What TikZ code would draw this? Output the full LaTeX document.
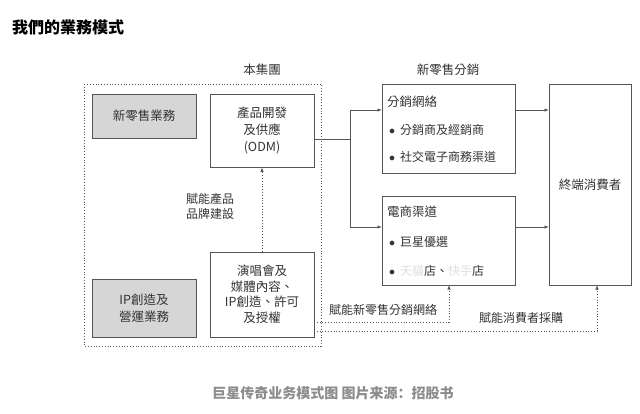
\documentclass[tikz,border=0pt]{standalone}
\usepackage{fontspec}
\setmainfont{Liberation Serif}
\newfontfamily\cjk{Noto Sans CJK TC}
\newfontfamily\cjksc{Noto Sans CJK SC}
\usetikzlibrary{arrows.meta}
\definecolor{txt}{HTML}{333333}
\definecolor{ln}{HTML}{555555}
\definecolor{gfill}{HTML}{D6D6D6}
\newcommand{\blt}{\raisebox{0.5pt}{$\bullet$}\hspace{5pt}}
\tikzset{
  box/.style={draw=ln, line width=0.8pt, text=txt, align=center, inner sep=0pt, font=\cjk\fontsize{12.5}{17}\selectfont},
  graybox/.style={box, fill=gfill},
  lbl/.style={text=txt, align=center, inner sep=0pt, font=\cjk\fontsize{12}{15}\selectfont},
  arr/.style={-{Latex[length=4.5pt,width=3.5pt]}},
  conn/.style={draw=ln, line width=0.8pt},
  dots/.style={draw=ln, line width=0.8pt, dotted},
}
\begin{document}
\begin{tikzpicture}[x=1pt,y=-1pt]
\useasboundingbox[fill=white] (0,0) rectangle (640,413);
\node[anchor=west, inner sep=0pt, font=\cjk\bfseries\fontsize{16}{18}\selectfont] (title) at (12,27) {我們的業務模式};
\node[lbl, font=\cjk\fontsize{12.5}{15}\selectfont] (grp) at (262,70) {本集團};
\node[lbl, font=\cjk\fontsize{12.5}{15}\selectfont] (nr) at (448,70) {新零售分銷};
\draw[dots] (84,84) rectangle (321,346);
\node[graybox, minimum width=104pt, minimum height=44pt] (xls) at (144,116) {新零售業務};
\node[box, minimum width=104pt, minimum height=73pt] (odm) at (262,130.5) {產品開發\\及供應\\(ODM)};
\node[graybox, minimum width=104pt, minimum height=58pt] (ip) at (144,308) {IP創造及\\營運業務};
\node[box, minimum width=104pt, minimum height=85pt, font=\cjk\fontsize{12.5}{15.5}\selectfont] (con) at (262,294.5) {演唱會及\\媒體內容、\\IP創造、許可\\及授權};
\node[lbl] (brand) at (210,206) {賦能產品\\品牌建設};
\node[box, minimum width=133pt, minimum height=89pt] (dist) at (448.5,128.5) {};
\node[box, minimum width=133pt, minimum height=89pt] (ecom) at (448.5,240.5) {};
\node[box, minimum width=82pt, minimum height=201pt] (end) at (590,184.5) {終端消費者};
% text in distribution box
\node[lbl, anchor=west, font=\cjk\fontsize{12.5}{15}\selectfont] (d0) at (387,102) {分銷網絡};
\node[lbl, anchor=west] (d1) at (389,130) {\blt 分銷商及經銷商};
\node[lbl, anchor=west] (d2) at (389,157) {\blt 社交電子商務渠道};
\node[lbl, anchor=west, font=\cjk\fontsize{12.5}{15}\selectfont] (e0) at (387,212) {電商渠道};
\node[lbl, anchor=west] (e1) at (389,242) {\blt 巨星優選};
\node[lbl, anchor=west] (e2) at (389,271) {\blt {\color{gray!25}天貓}店、{\color{gray!25}快手}店};
% connectors
\coordinate (j) at (350,139);
\coordinate (a1) at (382,110);
\coordinate (a2) at (382,227);
\coordinate (b1) at (549,110);
\coordinate (b2) at (549,227);
\draw[conn] (odm.east |- j) -- (j);
\draw[conn, arr] (j) |- (a1);
\draw[conn, arr] (j) |- (a2);
\draw[conn, arr] (dist.east |- b1) -- (b1);
\draw[conn, arr] (ecom.east |- b2) -- (b2);
\draw[dots, arr] (con.north) -- (odm.south);
\coordinate (s1) at (314,322);
\coordinate (s2) at (314,331);
\coordinate (t1) at (449,285);
\coordinate (t2) at (597,285);
\draw[dots, arr] (s1) -| (t1);
\draw[dots, arr] (s2) -| (t2);
\node[lbl] (l1) at (383,310) {賦能新零售分銷網絡};
\node[lbl] (l2) at (521,318) {賦能消費者採購};
\node[inner sep=0pt, text=gray!90, font=\cjksc\bfseries\fontsize{14}{16}\selectfont] (cap) at (333,393) {巨星传奇业务模式图 图片来源：招股书};
\end{tikzpicture}
\end{document}
